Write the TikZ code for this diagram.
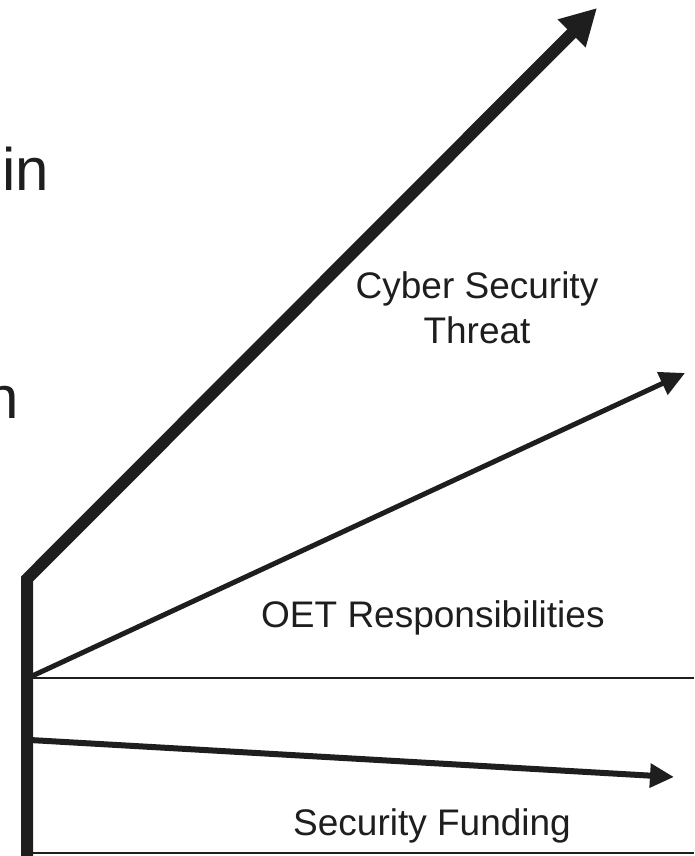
\documentclass[tikz,border=0pt]{standalone}
\usepackage{fontspec}
\setmainfont{Liberation Sans}
\usetikzlibrary{arrows.meta}
\definecolor{ink}{RGB}{30,30,30}
\begin{document}
\begin{tikzpicture}[x=1pt,y=-1pt,
  lbl/.style={inner sep=0pt,text=ink,font=\fontsize{37}{45}\selectfont},
  big/.style={inner sep=0pt,text=ink,font=\fontsize{60}{70}\selectfont},
  trend/.style={draw=ink,line join=miter},
  rule/.style={draw=ink,line width=2pt}]
\useasboundingbox[fill=white] (0,0) rectangle (694,856);
% axis and coordinates
\coordinate (base) at (27,858);
\coordinate (top) at (27,579);
\coordinate (threat) at (597,8);
\coordinate (oetS) at (30,677);
\coordinate (oetE) at (685,373);
\coordinate (fundS) at (30,740);
\coordinate (fundE) at (674,777);
\coordinate (h1a) at (30,678);
\coordinate (h1b) at (694,678);
\coordinate (h2a) at (30,853);
\coordinate (h2b) at (694,853);
% lines
\draw[rule] (h1a) -- (h1b);
\draw[rule] (h2a) -- (h2b);
\draw[trend,line width=12pt,-{Triangle[length=36pt,width=37pt]}] (base) -- (top) -- (threat);
\draw[trend,line width=5pt,-{Triangle[length=25pt,width=24pt]}] (oetS) -- (oetE);
\draw[trend,line width=6pt,-{Triangle[length=24pt,width=23pt]}] (fundS) -- (fundE);
% texts
\node[big,anchor=base east] (tin) at (49,190) {in};
\node[big,anchor=base east] (tn) at (19,418) {n};
\node[lbl,anchor=north,align=center] (cst) at (477,271) {Cyber Security\\Threat};
\node[lbl,anchor=base west] (oet) at (261,627) {OET Responsibilities};
\node[lbl,anchor=base west] (sf) at (293,835) {Security Funding};
\end{tikzpicture}
\end{document}
